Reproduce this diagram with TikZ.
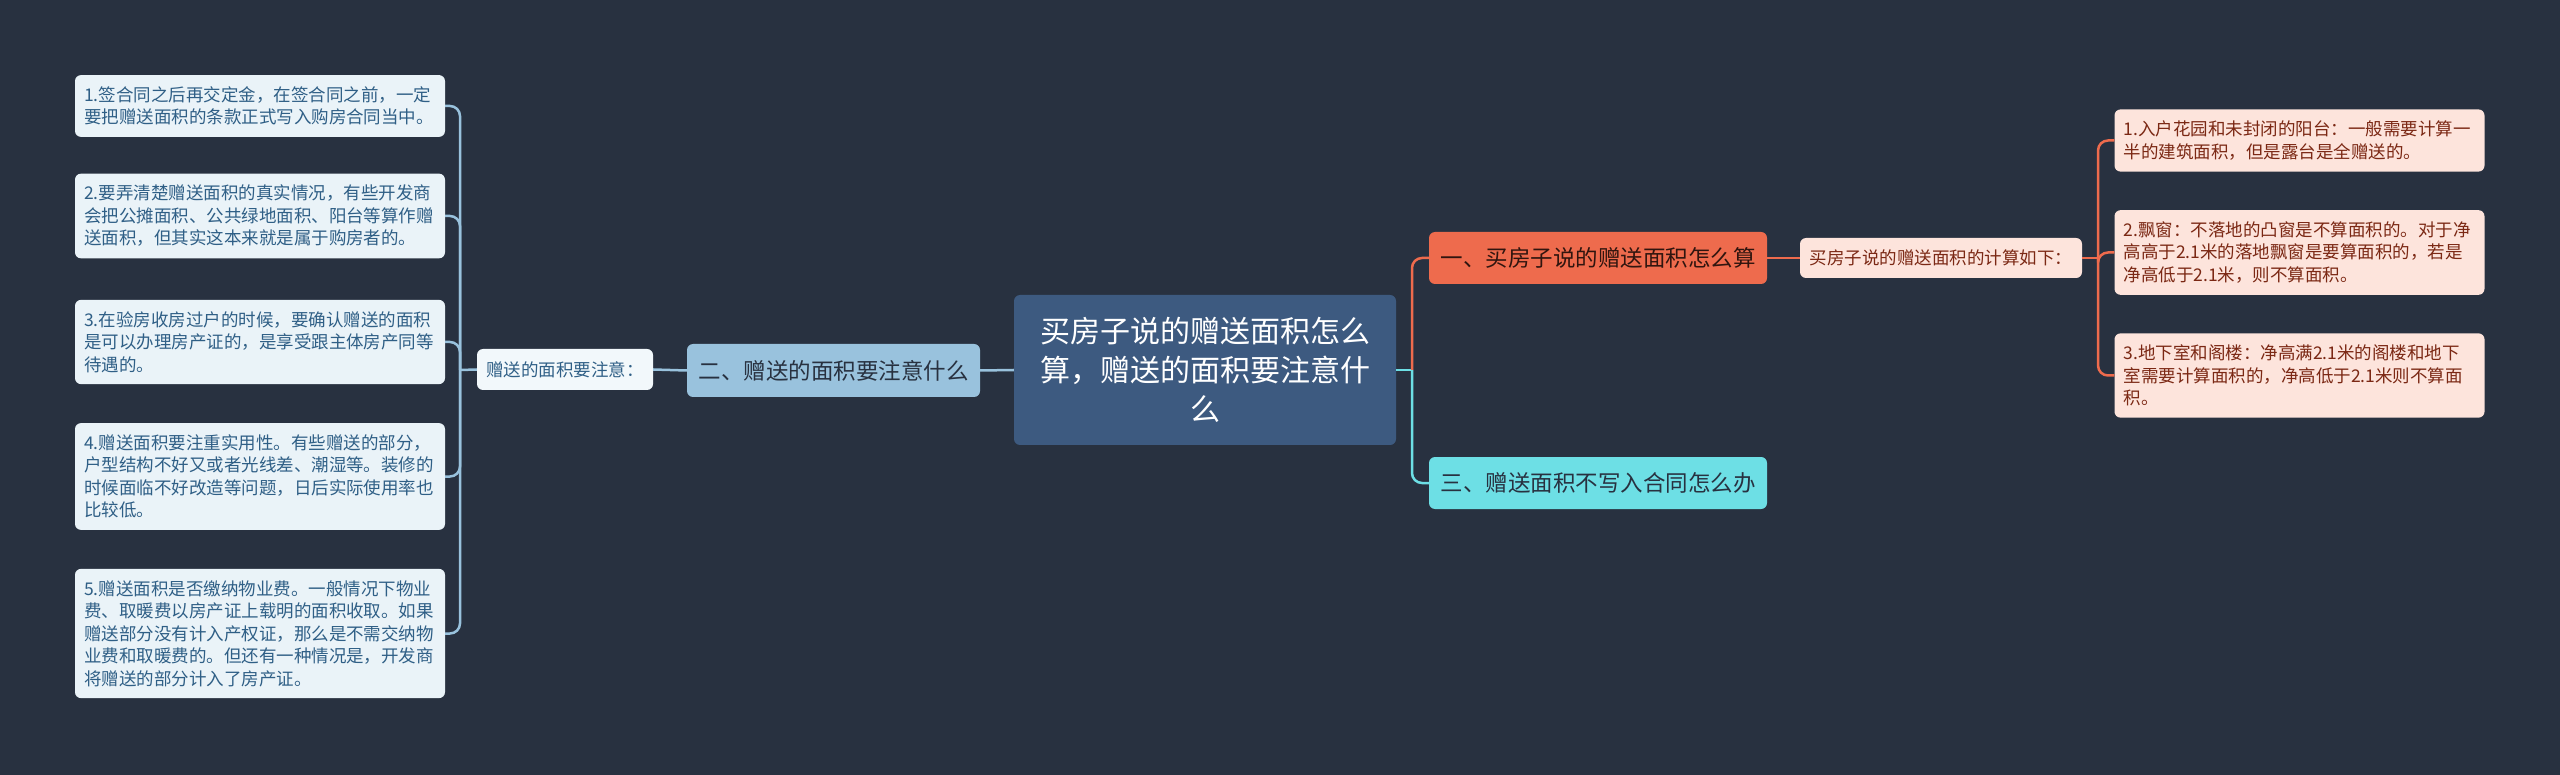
\documentclass[tikz,border=0pt]{standalone}
\usepackage{fontspec}
\setmainfont{Noto Sans CJK SC}
\definecolor{bgnavy}{HTML}{283140}
\definecolor{rootblue}{HTML}{3D5A80}
\definecolor{skyblue}{HTML}{99C2DD}
\definecolor{paleblue}{HTML}{EAF3F8}
\definecolor{inkblue}{HTML}{2F5F86}
\definecolor{coral}{HTML}{EE6B4D}
\definecolor{palecoral}{HTML}{FDE4DC}
\definecolor{inkred}{HTML}{7B2814}
\definecolor{aqua}{HTML}{6DDFE5}
\definecolor{inkdark}{HTML}{283140}

\begin{document}
\begin{tikzpicture}[x=1pt,y=-1pt,
  box/.style={rounded corners=6pt,inner xsep=9pt},
  leafL/.style={box,fill=paleblue,text=inkblue,text width=352pt,align=left,inner ysep=11.5pt,font=\fontsize{17.5}{22.5}\selectfont},
  leafR/.style={box,fill=palecoral,text=inkred,text width=352pt,align=left,inner ysep=11.5pt,font=\fontsize{17.5}{22.5}\selectfont},
  tag/.style={box,minimum height=41pt,font=\fontsize{17.5}{20}\selectfont},
  topic/.style={box,minimum height=53pt,font=\fontsize{22.5}{27}\selectfont},
  bline/.style={skyblue,line width=2.5pt,rounded corners=10pt},
  rline/.style={coral,line width=2.5pt,rounded corners=10pt},
  cline/.style={aqua,line width=2.5pt,rounded corners=10pt}]
\useasboundingbox[fill=bgnavy] (0,0) rectangle (2560,775);

% centre
\node[box,fill=rootblue,text=white,minimum width=382pt,minimum height=150pt,align=center,
  font=\fontsize{30}{39}\selectfont] (root) at (1205,370)
  {买房子说的赠送面积怎么\\算，赠送的面积要注意什\\么};

% left branch
\node[topic,fill=skyblue,text=inkdark,minimum width=293pt] (two) at (833.5,370.5) {二、赠送的面积要注意什么};
\node[tag,fill=paleblue!60!white,text=inkblue,minimum width=176pt] (note) at (565,369.5) {赠送的面积要注意：};
\coordinate (lspine) at (460,370);

\node[leafL] (L1) at (260,106) {1.签合同之后再交定金，在签合同之前，一定\\要把赠送面积的条款正式写入购房合同当中。};
\node[leafL] (L2) at (260,216) {2.要弄清楚赠送面积的真实情况，有些开发商\\会把公摊面积、公共绿地面积、阳台等算作赠\\送面积，但其实这本来就是属于购房者的。};
\node[leafL] (L3) at (260,342) {3.在验房收房过户的时候，要确认赠送的面积\\是可以办理房产证的，是享受跟主体房产同等\\待遇的。};
\node[leafL] (L4) at (260,476.5) {4.赠送面积要注重实用性。有些赠送的部分，\\户型结构不好又或者光线差、潮湿等。装修的\\时候面临不好改造等问题，日后实际使用率也\\比较低。};
\node[leafL] (L5) at (260,633.5) {5.赠送面积是否缴纳物业费。一般情况下物业\\费、取暖费以房产证上载明的面积收取。如果\\赠送部分没有计入产权证，那么是不需交纳物\\业费和取暖费的。但还有一种情况是，开发商\\将赠送的部分计入了房产证。};

% right branch
\coordinate (cspine) at (1412,370);
\node[topic,fill=coral,text=black!80!coral,minimum width=338pt,minimum height=52pt] (one) at (1598,258) {一、买房子说的赠送面积怎么算};
\node[topic,fill=aqua,text=inkdark,minimum width=338pt,minimum height=52pt] (three) at (1598,483) {三、赠送面积不写入合同怎么办};
\node[tag,fill=palecoral,text=inkred,minimum width=282pt,minimum height=40pt] (calc) at (1941,258) {买房子说的赠送面积的计算如下：};
\coordinate (rspine) at (2098,258);

\node[leafR] (r1) at (2299.5,140.5) {1.入户花园和未封闭的阳台：一般需要计算一\\半的建筑面积，但是露台是全赠送的。};
\node[leafR] (r2) at (2299.5,252.5) {2.飘窗：不落地的凸窗是不算面积的。对于净\\高高于2.1米的落地飘窗是要算面积的，若是\\净高低于2.1米，则不算面积。};
\node[leafR] (r3) at (2299.5,375.5) {3.地下室和阁楼：净高满2.1米的阁楼和地下\\室需要计算面积的，净高低于2.1米则不算面\\积。};

% connectors
\draw[bline] (root.west) -- (two.east);
\draw[bline] (two.west) -- (note.east);
\draw[bline] (note.west) -- (lspine);
\foreach \n in {L1,L2,L3,L4,L5} \draw[bline] (lspine) |- (\n.east);
\draw[cline] (root.east) -- (cspine);
\draw[cline] (cspine) |- (three.west);
\draw[rline] (cspine) |- (one.west);
\draw[rline] (one.east) -- (calc.west);
\draw[rline] (calc.east) -- (rspine);
\foreach \n in {r1,r2,r3} \draw[rline] (rspine) |- (\n.west);
\end{tikzpicture}
\end{document}
